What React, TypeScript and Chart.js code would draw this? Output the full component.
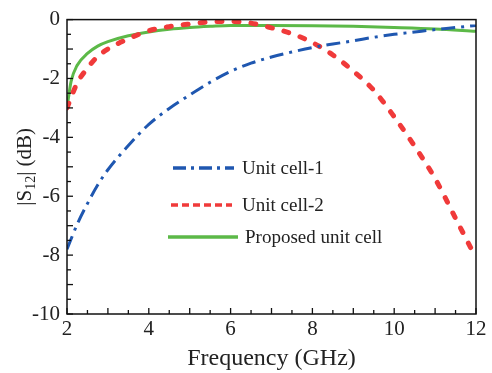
import React, { useEffect, useRef } from "react";
import { Chart, registerables } from "chart.js";

Chart.register(...registerables);

// Frequency samples (GHz)
const freq1 = [2, 2.25, 2.5, 2.75, 3, 3.5, 4, 4.5, 5, 5.5, 6, 6.5, 7, 7.5, 8, 8.5, 9, 9.5, 10, 10.5, 11, 11.5, 12];
const cell1 = [-7.8, -6.95, -6.25, -5.62, -5.1, -4.28, -3.56, -3.02, -2.56, -2.13, -1.76, -1.48, -1.27, -1.1, -0.95, -0.83, -0.72, -0.6, -0.5, -0.42, -0.34, -0.27, -0.2];

const freq2 = [2, 2.25, 2.5, 2.75, 3, 3.5, 4, 4.5, 5, 5.5, 6, 6.5, 7, 7.5, 8, 8.5, 9, 9.5, 10, 10.5, 11, 11.5, 12];
const cell2 = [-3.0, -2.15, -1.65, -1.25, -1.0, -0.65, -0.38, -0.24, -0.15, -0.08, -0.06, -0.12, -0.28, -0.48, -0.78, -1.2, -1.75, -2.4, -3.3, -4.3, -5.4, -6.75, -8.1];

const freq3 = [2, 2.1, 2.25, 2.5, 2.75, 3, 3.5, 4, 4.5, 5, 5.5, 6, 7, 8, 9, 10, 11, 12];
const proposed = [-3.0, -2.1, -1.55, -1.15, -0.9, -0.75, -0.55, -0.42, -0.33, -0.27, -0.23, -0.2, -0.2, -0.21, -0.23, -0.27, -0.32, -0.4];

const seriesNames = ["Unit cell-1", "Unit cell-2", "Proposed unit cell"];
const xTickLabels = [2, 4, 6, 8, 10, 12];
const yTickLabels = [0, -2, -4, -6, -8, -10];

const FONT = "'Liberation Serif', 'Times New Roman', serif";

const framePlugin = {
  id: "frameTicks",
  afterDraw(chart: any) {
    const { ctx, chartArea } = chart;
    const { left, right, top, bottom } = chartArea;
    const xs = chart.scales.x;
    const ys = chart.scales.y;
    ctx.save();
    ctx.strokeStyle = "#111";
    ctx.lineWidth = 1.5;
    ctx.strokeRect(left, top, right - left, bottom - top);
    // inward ticks
    ctx.lineWidth = 1.3;
    xs.ticks.forEach((t: any) => {
      const px = xs.getPixelForValue(t.value);
      const major = Math.abs(t.value - Math.round(t.value)) < 1e-6;
      const len = major ? 6 : 4;
      ctx.beginPath();
      ctx.moveTo(px, bottom);
      ctx.lineTo(px, bottom - len);
      ctx.stroke();
    });
    ys.ticks.forEach((t: any) => {
      const py = ys.getPixelForValue(t.value);
      const major = Math.abs(t.value - Math.round(t.value)) < 1e-6;
      const len = major ? 6 : 4;
      ctx.beginPath();
      ctx.moveTo(left, py);
      ctx.lineTo(left + len, py);
      ctx.stroke();
    });

    // y title with subscript
    ctx.translate(24, (top + bottom) / 2);
    ctx.rotate(-Math.PI / 2);
    ctx.fillStyle = "#222";
    ctx.textBaseline = "alphabetic";
    const big = `21px ${FONT}`;
    const small = `14px ${FONT}`;
    const parts = [
      { t: "|S", f: big, dy: 0 },
      { t: "12", f: small, dy: 4 },
      { t: "| (dB)", f: big, dy: 0 },
    ];
    let total = 0;
    parts.forEach((p) => {
      ctx.font = p.f;
      total += ctx.measureText(p.t).width;
    });
    let cx = -total / 2;
    parts.forEach((p) => {
      ctx.font = p.f;
      ctx.fillText(p.t, cx, 7 + p.dy);
      cx += ctx.measureText(p.t).width;
    });
    ctx.restore();

    // legend
    ctx.save();
    const items = [
      { ds: 0, y: 168, x0: 173, x1: 234, tx: 242, dash: [13, 5, 3, 5], w: 3.5, cap: "butt" },
      { ds: 1, y: 205, x0: 171, x1: 232, tx: 242, dash: [7, 4], w: 3.5, cap: "butt" },
      { ds: 2, y: 237, x0: 168, x1: 238, tx: 245, dash: [], w: 3.5, cap: "butt" },
    ];
    items.forEach((it) => {
      const d = chart.data.datasets[it.ds];
      ctx.strokeStyle = d.borderColor;
      ctx.lineWidth = it.w;
      ctx.lineCap = it.cap;
      ctx.setLineDash(it.dash);
      ctx.beginPath();
      ctx.moveTo(it.x0, it.y);
      ctx.lineTo(it.x1, it.y);
      ctx.stroke();
      ctx.setLineDash([]);
      ctx.fillStyle = "#222";
      ctx.font = `19px ${FONT}`;
      ctx.textBaseline = "middle";
      ctx.fillText(d.label, it.tx, it.y + 1);
    });
    ctx.restore();
  },
};

export default function App() {
  const ref = useRef<HTMLCanvasElement | null>(null);
  useEffect(() => {
    const canvas = ref.current;
    if (!canvas) return;
    const mk = (xs: number[], ys: number[]) => xs.map((x, i) => ({ x, y: ys[i] }));
    const chart = new Chart(canvas, {
      type: "line",
      data: {
        datasets: [
          {
            label: seriesNames[0],
            data: mk(freq1, cell1),
            borderColor: "#1f57b0",
            borderWidth: 3,
            borderDash: [14, 6, 3, 6],
            pointRadius: 0,
            cubicInterpolationMode: "monotone",
            order: 1,
          },
          {
            label: seriesNames[1],
            data: mk(freq2, cell2),
            borderColor: "#f03a3a",
            borderWidth: 5,
            borderDash: [5, 12],
            borderCapStyle: "round",
            pointRadius: 0,
            cubicInterpolationMode: "monotone",
            order: 2,
          },
          {
            label: seriesNames[2],
            data: mk(freq3, proposed),
            borderColor: "#5cb948",
            borderWidth: 3,
            pointRadius: 0,
            cubicInterpolationMode: "monotone",
            order: 3,
          },
        ],
      },
      options: {
        responsive: false,
        animation: false,
        devicePixelRatio: 1,
        layout: { padding: { left: 0, top: 15, right: 16, bottom: 0 } },
        plugins: { legend: { display: false }, tooltip: { enabled: false } },
        scales: {
          x: {
            type: "linear",
            min: 2,
            max: 12,
            afterFit: (s: any) => {
              s.height = 59;
            },
            grid: { display: false, drawTicks: false },
            border: { display: false },
            ticks: {
              stepSize: 0.5,
              autoSkip: false,
              maxRotation: 0,
              padding: 3,
              color: "#222",
              font: { family: FONT, size: 21 },
              callback: (v: any) => (xTickLabels.includes(Number(v)) ? String(v) : ""),
            },
            title: {
              display: true,
              text: "Frequency (GHz)",
              color: "#222",
              font: { family: FONT, size: 24 },
              padding: { top: 0, bottom: 0 },
            },
          },
          y: {
            type: "linear",
            min: -10,
            max: 0,
            afterFit: (s: any) => {
              s.width = 67;
            },
            grid: { display: false, drawTicks: false },
            border: { display: false },
            ticks: {
              stepSize: 0.5,
              autoSkip: false,
              padding: 7,
              color: "#222",
              font: { family: FONT, size: 21 },
              callback: (v: any) => (yTickLabels.includes(Number(v)) ? String(v) : ""),
            },
          },
        },
      },
      plugins: [framePlugin],
    } as any);
    return () => chart.destroy();
  }, []);
  return (
    <div style={{ position: "fixed", left: 0, top: 0, width: 492, height: 373, background: "#fff" }}>
      <canvas ref={ref} width={492} height={373} style={{ display: "block", width: 492, height: 373 }} />
    </div>
  );
}
